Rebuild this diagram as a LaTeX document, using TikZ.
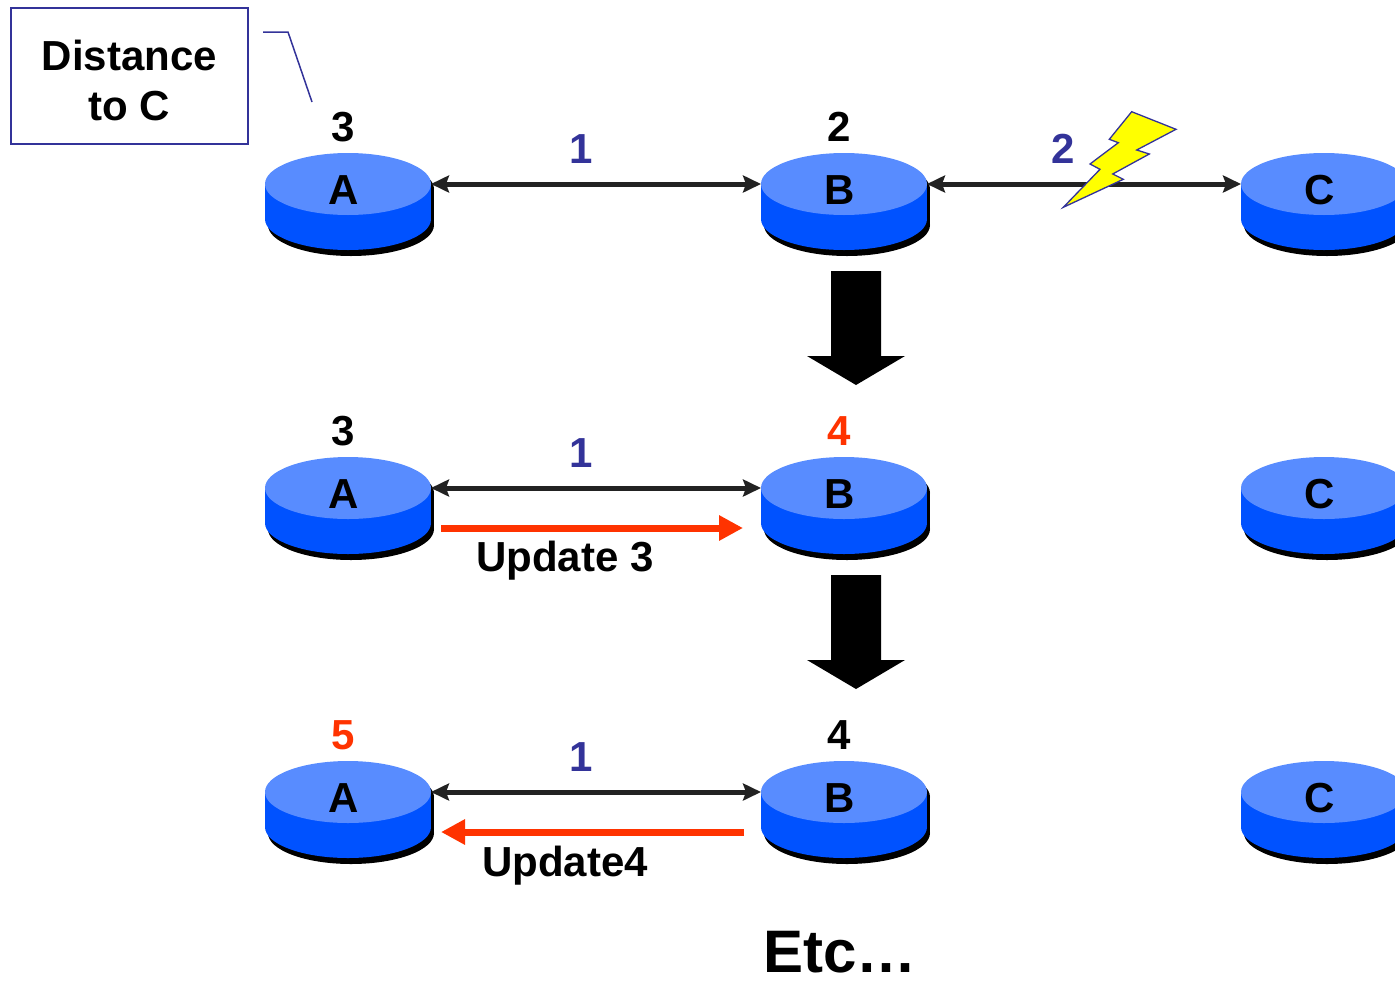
\documentclass[tikz,border=0pt]{standalone}
\usepackage{fontspec}
\setmainfont{Liberation Sans}
\usetikzlibrary{shapes.geometric,arrows.meta,calc}
\definecolor{rtop}{RGB}{88,140,255}
\definecolor{rside}{RGB}{0,82,255}
\definecolor{navy}{RGB}{51,51,153}
\definecolor{upred}{RGB}{255,51,0}
\definecolor{linkc}{RGB}{34,34,34}
\definecolor{bolt}{RGB}{255,255,0}
\tikzset{
  rnode/.style={ellipse, minimum width=166pt, minimum height=62pt, inner sep=0pt, outer sep=0pt},
  rlabel/.style={font=\fontsize{42}{48}\selectfont\bfseries, inner sep=0pt},
  dist/.style={font=\fontsize{42}{48}\selectfont\bfseries, inner sep=0pt},
  distred/.style={dist, text=upred},
  cost/.style={font=\fontsize{42}{48}\selectfont\bfseries, inner sep=0pt, text=navy},
  lnk/.style={draw=linkc, line width=5pt, {Stealth[length=18pt,width=17pt,inset=3pt]}-{Stealth[length=18pt,width=17pt,inset=3pt]}},
  upd/.style={draw=upred, line width=7pt, -{Triangle[length=24pt,width=24pt]}},
  updtext/.style={font=\fontsize{42}{48}\selectfont\bfseries, inner sep=0pt, anchor=base},
  bigarrow/.style={fill=black},
}
\newcommand\router[3]{%
  \begin{scope}[shift={(#2)}]
    \fill[black] (3,5) ellipse[x radius=83, y radius=31];
    \fill[black] (-80,5) rectangle (86,41);
    \fill[black] (3,41) ellipse[x radius=83, y radius=31];
    \fill[rside] (-83,0) rectangle (83,35);
    \fill[rside] (0,35) ellipse[x radius=83, y radius=31];
    \fill[rtop] (0,0) ellipse[x radius=83, y radius=31];
  \end{scope}
  \node[rnode] (#1) at (#2) {};
  \node[rlabel] (#1t) at ($(#1)+(-4,6)$) {#3};
}
\begin{document}
\begin{tikzpicture}[x=1pt, y=-1pt]
\useasboundingbox (0,0) rectangle (1395,983);
\clip (0,0) rectangle (1395,983);

% routers
\router{A1}{348,184}{A}
\router{B1}{844,184}{B}
\router{C1}{1324,184}{C}
\router{A2}{348,488}{A}
\router{B2}{844,488}{B}
\router{C2}{1324,488}{C}
\router{A3}{348,792}{A}
\router{B3}{844,792}{B}
\router{C3}{1324,792}{C}

% distances
\node[dist] (dA1) at (343,127) {3};
\node[dist] (dB1) at (839,127) {2};
\node[dist] (dA2) at (343,431) {3};
\node[distred] (dB2) at (839,431) {4};
\node[distred] (dA3) at (343,735) {5};
\node[dist] (dB3) at (839,735) {4};

% links
\draw[lnk] (A1.east) -- (B1.west);
\draw[lnk] (B1.east) -- (C1.west);
\draw[lnk] (A2.east) -- (B2.west);
\draw[lnk] (A3.east) -- (B3.west);

\node[cost] (c1) at (581,149) {1};
\node[cost] (c2) at (1063,149) {2};
\node[cost] (c3) at (581,453) {1};
\node[cost] (c4) at (581,757) {1};

% lightning bolt
\filldraw[fill=bolt, draw=navy, line width=1.3pt]
  (1131.7,111.7) -- (1176,129.3) -- (1136.7,150) -- (1149.3,154) -- (1112.7,174)
  -- (1123.3,179.3) -- (1063.3,207.3) -- (1100,169.3) -- (1090,164)
  -- (1118.3,142.7) -- (1109.3,139.3) -- cycle;

% update arrows
\coordinate (u1s) at (441,528);
\coordinate (u1e) at (743,528);
\coordinate (u2s) at (744,832);
\coordinate (u2e) at (441,832);
\draw[upd] (u1s) -- (u1e);
\draw[upd] (u2s) -- (u2e);
\node[updtext] (ut1) at (565,571) {Update 3};
\node[updtext] (ut2) at (565,876) {Update4};

% big down arrows
\fill[bigarrow] (831,271) -- (881,271) -- (881,356) -- (905,356) -- (856,385) -- (807,356) -- (831,356) -- cycle;
\fill[bigarrow] (831,575) -- (881,575) -- (881,660) -- (905,660) -- (856,689) -- (807,660) -- (831,660) -- cycle;

% callout
\node[draw=navy, line width=1.6pt, minimum width=237pt, minimum height=136pt, inner sep=0pt] (box) at (129.5,76) {};
\node[font=\fontsize{42}{50}\selectfont\bfseries, align=center, inner sep=0pt] (dtext) at (129.5,80) {Distance\\to C};
\coordinate (k1) at (263,32);
\coordinate (k2) at (288,32);
\coordinate (k3) at (312,102);
\draw[navy, line width=1.5pt] (k1) -- (k2) -- (k3);

% etc
\node[font=\fontsize{60}{66}\selectfont\bfseries, inner sep=0pt, anchor=base] (etc) at (840,972) {Etc…};
\end{tikzpicture}
\end{document}
